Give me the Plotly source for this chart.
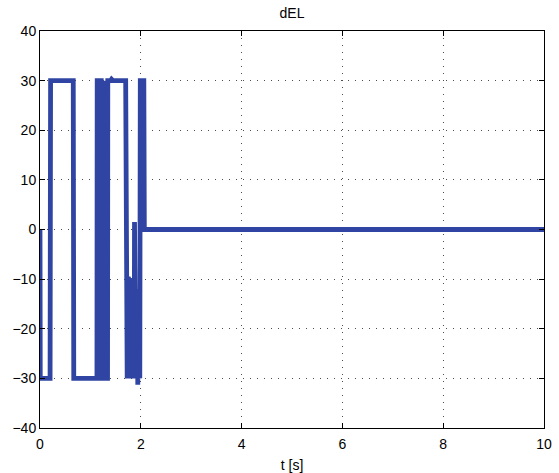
import plotly.graph_objects as go

# time samples [s] and control surface deflection dEL values
t_vals = [0.0, 0.0, 0.005, 0.2, 0.21, 0.66, 0.67, 1.13, 1.135, 1.215, 1.22, 1.245, 1.25, 1.27, 1.275,
          1.34, 1.345, 1.4, 1.42, 1.45, 1.7, 1.71,
          1.72, 1.725, 1.73, 1.735, 1.74, 1.745, 1.75, 1.755, 1.76, 1.765, 1.77, 1.775, 1.78,
          1.785, 1.79, 1.795, 1.80, 1.805, 1.81, 1.815, 1.82, 1.825, 1.83, 1.835, 1.84, 1.845,
          1.85, 1.855, 1.86, 1.865, 1.87, 1.875, 1.88, 1.885, 1.89, 1.895, 1.90, 1.905, 1.91,
          1.915, 1.92, 1.925, 1.93, 1.935, 1.94, 1.945, 1.95, 1.955, 1.96, 1.965, 1.97,
          1.98, 1.99, 2.06, 2.07, 2.08, 10.0]
del_vals = [0.0, 0.0, -30.0, -30.0, 30.0, 30.0, -30.0, -30.0, 30.0, 30.0, -30.0, -30.0, 30.0, 30.0, -30.0,
            -30.0, 30.0, 30.0, 30.3, 30.0, 30.0, -30.0,
            -30.0, -12.0, -30.0, -10.0, -30.0, -14.0, -30.0, -9.5, -30.0, -11.0, -30.0, -16.0, -30.0,
            -9.8, -30.0, -12.0, -30.0, -10.5, -30.0, -18.0, -30.0, -11.0, -30.0, -14.0, -30.0, -12.0,
            -30.0, -15.0, -30.0, -13.0, -30.0, 1.5, -30.0, -14.0, -30.0, -16.0, -30.0, -12.0, -30.0,
            -18.0, -30.0, -15.0, -30.0, -20.0, -31.3, -16.0, -30.0, -14.0, -30.0, -18.0, -30.0,
            -30.0, 30.0, 30.0, 0.0, 0.0, 0.0]

x_ticks = [0, 2, 4, 6, 8, 10]
y_ticks = [-40, -30, -20, -10, 0, 10, 20, 30, 40]

FONT = "Liberation Sans, Arial, sans-serif"

fig = go.Figure()
fig.add_trace(go.Scatter(x=t_vals, y=del_vals, mode="lines",
                         line=dict(color="rgb(48,69,163)", width=4.8),
                         showlegend=False))

axis_common = dict(
    showline=True, linecolor="black", linewidth=1, mirror="ticks",
    ticks="inside", ticklen=5, tickcolor="black",
    showgrid=True, gridcolor="rgba(0,0,0,0.7)", griddash="1px,6px", gridwidth=1,
    zeroline=False,
    tickfont=dict(family=FONT, size=14, color="black"),
)

fig.update_xaxes(range=[0, 10], tickvals=x_ticks, ticktext=[str(v) for v in x_ticks],
                 ticklabelstandoff=3,
                 title=dict(text="t [s]", font=dict(family=FONT, size=14, color="black"),
                            standoff=12),
                 automargin=False,
                 **axis_common)
fig.update_yaxes(range=[-40, 40], tickvals=y_ticks,
                 ticktext=[str(v) if v >= 0 else "\u2212" + str(-v) for v in y_ticks],
                 automargin=False,
                 **axis_common)

fig.update_layout(
    width=559, height=473,
    margin=dict(l=40, r=15, t=31, b=45),
    paper_bgcolor="white", plot_bgcolor="white",
    title=dict(text="dEL", x=0.5, xanchor="center", y=1 - 13 / 473, yanchor="middle",
               xref="paper",
               font=dict(family=FONT, size=14, color="black")),
)

fig.write_html("out.html")
